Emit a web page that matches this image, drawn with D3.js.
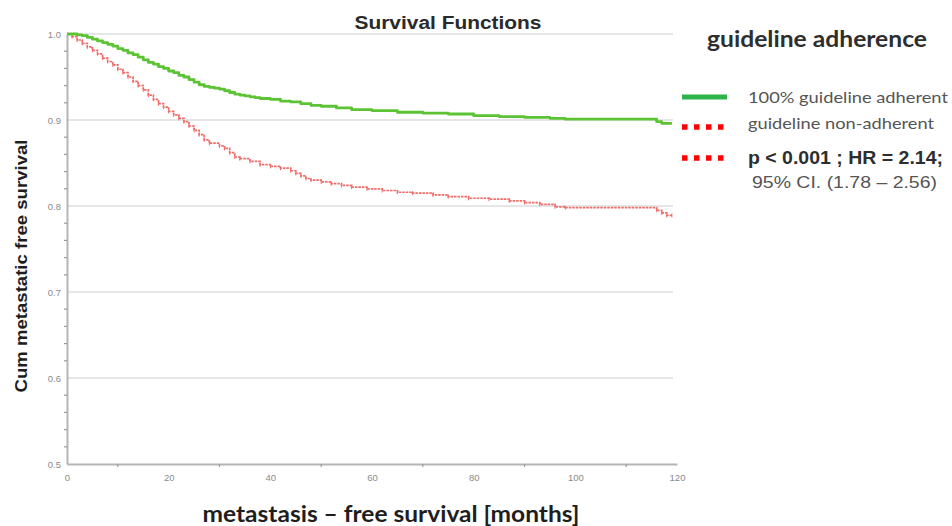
<!DOCTYPE html>
<html>
<head>
<meta charset="utf-8">
<script src="https://cdn.jsdelivr.net/npm/d3@7/dist/d3.min.js"></script>
<style>
  body { margin: 0; background: #fff; }
  svg { display: block; }
</style>
</head>
<body>
<svg id="chart" width="952" height="526"></svg>
<script>
// ---- data ----
const adherentMonths = [0,1,2,3,4,5,6,7,8,9,10,11,12,13,14,15,16,17,18,19,20,21,22,23,24,25,26,27,28,29,30,31,32,33,34,35,36,37,38,39,40,42,44,46,48,50,53,56,60,65,70,75,80,85,90,95,98,116,117,119];
const adherentSurv   = [1.0,1.0,0.999,0.998,0.996,0.994,0.992,0.990,0.988,0.986,0.983,0.981,0.978,0.976,0.973,0.970,0.967,0.965,0.962,0.960,0.957,0.955,0.952,0.950,0.947,0.944,0.941,0.939,0.938,0.937,0.936,0.934,0.932,0.930,0.929,0.928,0.927,0.926,0.925,0.925,0.924,0.922,0.921,0.919,0.917,0.916,0.914,0.912,0.911,0.909,0.908,0.907,0.905,0.904,0.903,0.902,0.901,0.898,0.896,0.896];

const nonAdhMonths = [0,1,2,3,4,5,6,7,8,9,10,11,12,13,14,15,16,17,18,19,20,21,22,23,24,25,26,27,28,30,31,32,33,34,36,38,40,42,44,45,46,47,48,50,52,54,56,59,62,65,68,72,75,79,83,87,90,93,96,98,116,117,118,119];
const nonAdhSurv   = [1.0,0.997,0.993,0.989,0.985,0.981,0.977,0.972,0.968,0.964,0.959,0.955,0.950,0.945,0.940,0.935,0.929,0.924,0.919,0.915,0.910,0.906,0.902,0.898,0.893,0.888,0.883,0.877,0.873,0.870,0.867,0.862,0.857,0.855,0.852,0.848,0.846,0.844,0.841,0.838,0.835,0.832,0.830,0.828,0.826,0.824,0.822,0.820,0.818,0.816,0.815,0.813,0.811,0.809,0.808,0.806,0.804,0.802,0.799,0.798,0.795,0.792,0.789,0.789];

const xTicks = [0,20,40,60,80,100,120];
const xMinorTicks = [10,30,50,70,90,110];
const yTicks = [0.5,0.6,0.7,0.8,0.9,1.0];
const yMinorTicks = d3.range(0.52, 1.0, 0.02).map(v => +v.toFixed(2)).filter(v => Math.round(v*100) % 10 !== 0);

const legendLabels = ["100% guideline adherent", "guideline non-adherent"];
const statLine1 = "p < 0.001 ; HR = 2.14;";
const statLine2 = "95% CI. (1.78 \u2013 2.56)";

// ---- layout ----
const svg = d3.select("#chart");
const margin = {left: 67, right: 275, top: 34, bottom: 62};
const W = 952, H = 526;
const x = d3.scaleLinear().domain([0,120]).range([margin.left, W - margin.right]);
const y = d3.scaleLinear().domain([0.5,1.0]).range([H - margin.bottom, margin.top]);

const axisCol = "#b5b5b5";
const labelCol = "#8a8a8a";

// gridlines
svg.append("g").selectAll("line").data(yTicks.filter(v => v > 0.5)).join("line")
  .attr("x1", x(0)).attr("x2", x(120) - 4)
  .attr("y1", d => y(d)).attr("y2", d => y(d))
  .attr("stroke", "#dedede").attr("stroke-width", 1.6);

// y axis
const yAxis = svg.append("g").attr("transform", `translate(${x(0)},0)`)
  .call(d3.axisLeft(y).tickValues(yTicks).tickFormat(d3.format(".1f")).tickSize(0).tickPadding(6));
yAxis.select(".domain").attr("stroke", axisCol).attr("stroke-width", 2);
yAxis.selectAll("text").attr("fill", labelCol).attr("font-family", "Liberation Sans, Arial, sans-serif").attr("font-size", 9.5);
svg.append("g").selectAll("line").data(yMinorTicks).join("line")
  .attr("x1", x(0) - 3).attr("x2", x(0))
  .attr("y1", d => y(d)).attr("y2", d => y(d))
  .attr("stroke", "#999").attr("stroke-width", 1.2);

// x axis
const xAxis = svg.append("g").attr("transform", `translate(0,${y(0.5)})`)
  .call(d3.axisBottom(x).tickValues(xTicks).tickSize(0).tickPadding(10));
xAxis.select(".domain").attr("stroke", axisCol).attr("stroke-width", 2);
xAxis.selectAll("text").attr("fill", labelCol).attr("font-family", "Liberation Sans, Arial, sans-serif").attr("font-size", 9.5);
svg.append("g").selectAll("line").data(xMinorTicks).join("line")
  .attr("x1", d => x(d)).attr("x2", d => x(d))
  .attr("y1", y(0.5)).attr("y2", y(0.5) + 3)
  .attr("stroke", "#999").attr("stroke-width", 1.2);

// curves
const adherent = adherentMonths.map((m,i) => ({m, s: adherentSurv[i]}));
const nonAdh = nonAdhMonths.map((m,i) => ({m, s: nonAdhSurv[i]}));
const line = d3.line().x(d => x(d.m)).y(d => y(d.s)).curve(d3.curveStepAfter);

svg.append("path").datum(nonAdh).attr("d", line)
  .attr("fill", "none").attr("stroke", "#f06a66").attr("stroke-width", 1.7)
  .attr("stroke-dasharray", "2.5,1");
svg.append("g").selectAll("line").data(nonAdh.slice(1)).join("line")
  .attr("x1", d => x(d.m)).attr("x2", d => x(d.m))
  .attr("y1", d => y(d.s) - 2).attr("y2", d => y(d.s) + 2)
  .attr("stroke", "#f06a66").attr("stroke-width", 1);

svg.append("path").datum(adherent).attr("d", line)
  .attr("fill", "none").attr("stroke", "#5cc434").attr("stroke-width", 2.8)
  .attr("stroke-linejoin", "round");

// title
svg.append("text").attr("x", 448).attr("y", 29).attr("text-anchor", "middle")
  .attr("font-family", "Liberation Sans, Arial, sans-serif").attr("font-weight", "bold")
  .attr("font-size", 18).attr("fill", "#2a2a2a")
  .attr("textLength", 187).attr("lengthAdjust", "spacingAndGlyphs").text("Survival Functions");

// y label
svg.append("text").attr("transform", "translate(27,266) rotate(-90)").attr("text-anchor", "middle")
  .attr("font-family", "Liberation Sans, Arial, sans-serif").attr("font-weight", "bold")
  .attr("font-size", 17).attr("fill", "#1e1e1e")
  .attr("textLength", 253).attr("lengthAdjust", "spacingAndGlyphs").text("Cum metastatic free survival");

// x label
svg.append("text").attr("x", 391).attr("y", 522).attr("text-anchor", "middle")
  .attr("font-family", "Lato, sans-serif").attr("font-weight", "bold")
  .attr("font-size", 22).attr("fill", "#1e1e1e")
  .attr("textLength", 377).attr("lengthAdjust", "spacingAndGlyphs").text("metastasis \u2013 free survival [months]");

// legend
const lg = svg.append("g");
lg.append("text").attr("x", 707).attr("y", 47)
  .attr("font-family", "Lato, sans-serif").attr("font-weight", "bold")
  .attr("font-size", 22).attr("fill", "#2e2e2e")
  .attr("textLength", 220).attr("lengthAdjust", "spacingAndGlyphs").text("guideline adherence");

lg.append("line").attr("x1", 682).attr("x2", 727).attr("y1", 97).attr("y2", 97)
  .attr("stroke", "#2db34a").attr("stroke-width", 5);
[127, 158].forEach(yy => {
  lg.append("line").attr("x1", 682).attr("x2", 728).attr("y1", yy).attr("y2", yy)
    .attr("stroke", "#ff0000").attr("stroke-width", 5.5).attr("stroke-dasharray", "5.5,6.5");
});
lg.selectAll("text.lab").data(legendLabels).join("text").attr("class", "lab")
  .attr("x", 748).attr("y", (d,i) => [103, 129][i])
  .attr("font-family", "Lato, sans-serif").attr("font-size", 16).attr("fill", "#555")
  .attr("textLength", (d,i) => [200, 186][i]).attr("lengthAdjust", "spacingAndGlyphs").text(d => d);
lg.append("text").attr("x", 748).attr("y", 164)
  .attr("font-family", "Liberation Sans, Arial, sans-serif").attr("font-weight", "bold")
  .attr("font-size", 18).attr("fill", "#2e2e2e")
  .attr("textLength", 195).attr("lengthAdjust", "spacingAndGlyphs").text(statLine1);
lg.append("text").attr("x", 752).attr("y", 188)
  .attr("font-family", "Liberation Sans, Arial, sans-serif")
  .attr("font-size", 17).attr("fill", "#555")
  .attr("textLength", 185).attr("lengthAdjust", "spacingAndGlyphs").text(statLine2);
</script>
</body>
</html>
